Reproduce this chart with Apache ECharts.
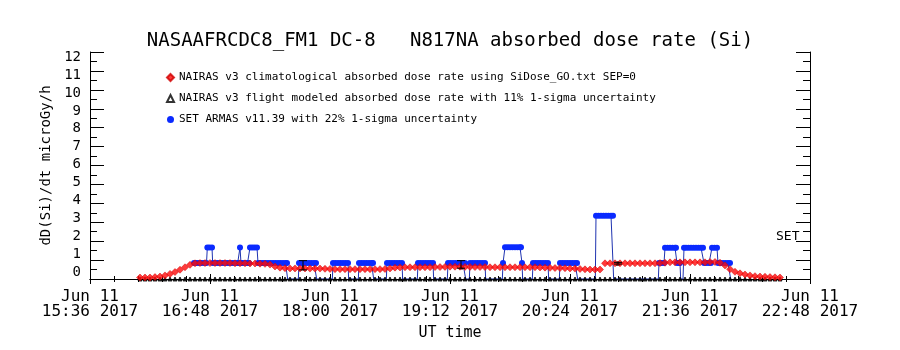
<!DOCTYPE html>
<html><head><meta charset="utf-8">
<script src="https://cdn.jsdelivr.net/npm/echarts@6/dist/echarts.min.js"></script>
<style>html,body{margin:0;padding:0;background:#fff}#c{width:900px;height:350px}</style>
</head><body><div id="c"></div>
<script>
const FONT = "'DejaVu Sans Mono', monospace";
const titleText = 'NASAAFRCDC8_FM1 DC-8   N817NA absorbed dose rate (Si)';
const yAxisTitle = 'dD(Si)/dt microGy/h';
const xAxisTitle = 'UT time';
const dateText = 'Jun 11';
const yearText = '2017';
const seriesNames = [
  'NAIRAS v3 climatological absorbed dose rate using SiDose_GO.txt SEP=0',
  'NAIRAS v3 flight modeled absorbed dose rate with 11% 1-sigma uncertainty',
  'SET ARMAS v11.39 with 22% 1-sigma uncertainty'
];
const setLabel = 'SET';
const yTickLabels = [0,1,2,3,4,5,6,7,8,9,10,11,12];

// time in minutes after 00:00 UT
const redTime = [
  966,969,972,975,978,981,984,987,990,993,
  996,999,1002,1005,1008,1011,1014,1017,1020,1023,
  1026,1029,1032,1035,1038,1041,1044,1047,1050,1053,
  1056,1059,1062,1065,1068,1071,1074,1077,1080,1083,
  1086,1089,1092,1095,1098,1101,1104,1107,1110,1113,
  1116,1119,1122,1125,1128,1131,1134,1137,1140,1143,
  1146,1149,1152,1155,1158,1161,1164,1167,1170,1173,
  1176,1179,1182,1185,1188,1191,1194,1197,1200,1203,
  1206,1209,1212,1215,1218,1221,1224,1227,1230,1233,
  1236,1239,1242,1245,1248,1251,1254,1257,1260,1263,
  1266,1269,1272,1275,1278,1281,1284,1287,1290,1293,
  1296,1299,1302,1305,1308,1311,1314,1317,1320,1323,
  1326,1329,1332,1335,1338,1341,1344,1347,1350
];
const redDose = [
  0.08,0.08,0.08,0.10,0.13,0.19,0.27,0.37,0.49,0.62,
  0.75,0.83,0.84,0.84,0.84,0.84,0.84,0.84,0.84,0.83,
  0.83,0.83,0.82,0.82,0.81,0.80,0.76,0.66,0.60,0.57,
  0.56,0.56,0.56,0.56,0.55,0.55,0.55,0.54,0.53,0.52,
  0.52,0.52,0.52,0.52,0.52,0.52,0.52,0.52,0.52,0.53,
  0.56,0.60,0.61,0.62,0.62,0.62,0.62,0.62,0.62,0.63,
  0.63,0.64,0.65,0.65,0.65,0.64,0.64,0.63,0.63,0.63,
  0.62,0.62,0.62,0.62,0.62,0.62,0.62,0.62,0.62,0.62,
  0.61,0.60,0.59,0.58,0.58,0.57,0.56,0.55,0.53,0.51,
  0.50,0.50,0.50,0.83,0.83,0.83,0.83,0.83,0.83,0.83,
  0.83,0.83,0.83,0.83,0.84,0.86,0.88,0.88,0.88,0.88,
  0.88,0.88,0.88,0.88,0.90,0.90,0.86,0.72,0.52,0.38,
  0.30,0.24,0.19,0.15,0.13,0.12,0.10,0.09,0.08
];
const flightDose = [
  0,0,0,0,0,0,0,0,0,0, 0,0,0,0,0,0,0,0,0,0,
  0,0,0,0,0,0,0,0,0,0, 0,0,0,0,0,0,0,0,0,0,
  0,0,0,0,0,0,0,0,0,0, 0,0,0,0,0,0,0,0,0,0,
  0,0,0,0,0,0,0,0,0,0, 0,0,0,0,0,0,0,0,0,0,
  0,0,0,0,0,0,0,0,0,0, 0,0,0,0,0,0,0,0,0,0,
  0,0,0,0,0,0,0,0,0,0, 0,0,0,0,0,0,0,0,0,0,
  0,0,0,0,0,0,0,0,0
];
const flightErrTime = [1063.8, 1158.6, 1252.8];
const flightErrDose = [0.60, 0.63, 0.83];
const flightErrLow  = [0.48, 0.57, 0.79];
const flightErrHigh = [0.97, 0.97, 0.88];

const armasTime = [
  998.4,999.9,1001.4,1002.9,1004.4,1005.9,1006.4,1007.7,1009.2,1009.6,
  1011.1,1012.6,1014.1,1015.6,1017.1,1018.6,1020.1,1021.6,1023.1,1024.6,
  1025.4,1026.0,1026.6,1027.5,1029.0,1030.5,1031.4,1032.0,1033.4,1034.8,
  1036.2,1036.8,1038.3,1039.8,1041.3,1042.8,1044.3,1045.8,1047.3,1048.8,
  1050.3,1051.8,1053.3,1054.2,1054.6,
  1061.0,1061.4,1062.9,1064.4,1065.9,1067.4,1068.9,1070.4,1071.6,1072.0,
  1081.4,1081.8,1083.3,1084.8,1086.3,1087.8,1089.3,1090.8,1091.2,
  1097.0,1097.4,1098.9,1100.4,1101.9,1103.4,1104.9,1105.8,1106.2,
  1113.8,1114.2,1115.7,1117.2,1118.7,1120.2,1121.7,1123.2,1123.6,
  1132.4,1132.8,1134.3,1135.8,1137.3,1138.8,1140.3,1141.8,1142.2,
  1150.4,1150.8,1152.3,1153.8,1155.3,1156.8,1158.3,1159.8,1161.0,1161.4,
  1163.6,1164.0,1165.5,1167.0,1168.5,1170.0,1171.5,1173.0,1173.4,
  1183.4,1183.8,1185.0,1186.5,1188.0,1189.5,1191.0,1192.5,1194.0,1194.6,1195.2,1195.6,
  1201.4,1201.8,1203.3,1204.8,1206.3,1207.8,1209.3,1210.8,1211.2,
  1217.6,1218.0,1219.5,1221.0,1222.5,1224.0,1225.5,1227.0,1228.2,1228.6,
  1239.2,1239.6,1241.1,1242.6,1244.1,1245.6,1247.1,1248.6,1249.8,1250.2,
  1277.0,1277.4,1278.9,1280.4,1281.0,1282.5,1284.0,1285.5,1287.0,1287.6,1288.2,1289.4,1290.0,1290.4,
  1291.8,1292.4,1293.6,1295.1,1296.6,1298.1,1299.6,1301.1,1302.6,1303.8,
  1304.4,1305.9,1307.4,1308.6,1309.2,1310.7,1312.2,1312.8,1314.3,1315.8,
  1317.3,1318.8,1320.0,1320.4
];
const armasDose = [
  0.84,0.84,0.84,0.84,0.84,0.84,1.67,1.67,1.67,0.84,
  0.84,0.84,0.84,0.84,0.84,0.84,0.84,0.84,0.84,0.84,
  0.84,1.67,0.84,0.84,0.84,0.84,0.84,1.67,1.67,1.67,
  1.67,0.84,0.84,0.84,0.84,0.84,0.84,0.84,0.84,0.84,
  0.84,0.84,0.84,0.84,0,
  0,0.84,0.84,0.84,0.84,0.84,0.84,0.84,0.84,0,
  0,0.84,0.84,0.84,0.84,0.84,0.84,0.84,0,
  0,0.84,0.84,0.84,0.84,0.84,0.84,0.84,0,
  0,0.84,0.84,0.84,0.84,0.84,0.84,0.84,0,
  0,0.84,0.84,0.84,0.84,0.84,0.84,0.84,0,
  0,0.84,0.84,0.84,0.84,0.84,0.84,0.84,0.84,0,
  0,0.84,0.84,0.84,0.84,0.84,0.84,0.84,0,
  0,0.84,1.68,1.68,1.68,1.68,1.68,1.68,1.68,1.68,0.84,0,
  0,0.84,0.84,0.84,0.84,0.84,0.84,0.84,0,
  0,0.84,0.84,0.84,0.84,0.84,0.84,0.84,0.84,0,
  0,3.35,3.35,3.35,3.35,3.35,3.35,3.35,3.35,0,
  0,0.84,0.84,0.84,1.65,1.65,1.65,1.65,1.65,1.65,0.84,0.84,0.84,0,
  0,1.65,1.65,1.65,1.65,1.65,1.65,1.65,1.65,1.65,
  0.84,0.84,0.84,0.84,1.65,1.65,1.65,0.84,0.84,0.84,
  0.84,0.84,0.84,0
];

const X_MIN = 936, X_MAX = 1368, X_STEP = 72;

function hhmm(v) {
  const h = Math.floor(v / 60), m = Math.round(v - h * 60);
  return (h < 10 ? '0' : '') + h + ':' + (m < 10 ? '0' : '') + m;
}

const black = '#000';
const tickStyle = { color: black, width: 1 };

const chart = echarts.init(document.getElementById('c'), null, { renderer: 'canvas' });

const redData = redTime.map((t, i) => [t, redDose[i]]);
const flightData = redTime.map((t, i) => [t, flightDose[i]])
  .concat(flightErrTime.map((t, i) => [t, flightErrDose[i]]));
const errData = flightErrTime.map((t, i) => [t, flightErrLow[i], flightErrHigh[i]]);
const armasData = armasTime.map((t, i) => [t, armasDose[i]]);

const option = {
  animation: false,
  backgroundColor: '#fff',
  title: {
    text: titleText, left: 'center', top: 27,
    textStyle: { fontFamily: FONT, fontSize: 19, fontWeight: 'normal', color: black }
  },
  legend: {
    orient: 'vertical', left: 166, top: 71, padding: 0,
    itemWidth: 7, itemHeight: 7, itemGap: 8, selectedMode: false,
    textStyle: { fontFamily: FONT, fontSize: 11, color: black, lineHeight: 13 },
    data: [
      { name: seriesNames[0], icon: 'diamond' },
      { name: seriesNames[1], icon: 'emptyTriangle' },
      { name: seriesNames[2], icon: 'circle' }
    ]
  },
  grid: { left: 90, right: 90, top: 52, bottom: 71, containLabel: false, outerBoundsMode: 'none' },
  xAxis: [{
    type: 'value', position: 'bottom', min: X_MIN, max: X_MAX, interval: X_STEP,
    axisLine: { show: true, lineStyle: { color: black, width: 1 } },
    axisTick: { show: true, inside: true, length: 5, lineStyle: tickStyle },
    minorTick: { show: true, splitNumber: 5, length: 3, lineStyle: tickStyle },
    splitLine: { show: false }, minorSplitLine: { show: false },
    axisLabel: {
      show: true, margin: 10, color: black, fontFamily: FONT, fontSize: 16, lineHeight: 15,
      showMinLabel: true, showMaxLabel: true,
      formatter: v => dateText + '\n' + hhmm(v) + ' ' + yearText
    },
    name: xAxisTitle, nameLocation: 'middle', nameGap: 47, nameMoveOverlap: false,
    nameTextStyle: { fontFamily: FONT, fontSize: 15, color: black }
  }, {
    type: 'value', position: 'top', min: X_MIN, max: X_MAX, interval: X_STEP,
    axisLine: { show: true, lineStyle: { color: black, width: 1 } },
    axisTick: { show: true, inside: true, length: 5, lineStyle: tickStyle },
    minorTick: { show: true, splitNumber: 5, length: 3, lineStyle: tickStyle },
    splitLine: { show: false }, minorSplitLine: { show: false },
    axisLabel: { show: false }
  }],
  yAxis: [{
    type: 'value', position: 'left', min: 0, max: 12, interval: 1,
    axisLine: { show: true, lineStyle: { color: black, width: 1 } },
    axisTick: { show: true, inside: true, length: 14, lineStyle: tickStyle },
    minorTick: { show: true, splitNumber: 2, length: 7, lineStyle: tickStyle },
    splitLine: { show: false }, minorSplitLine: { show: false },
    axisLabel: { show: false },
    name: yAxisTitle, nameLocation: 'middle', nameGap: 37, nameMoveOverlap: false,
    nameTextStyle: { fontFamily: FONT, fontSize: 14, color: black }
  }, {
    type: 'value', position: 'right', min: 0, max: 12, interval: 1,
    axisLine: { show: true, lineStyle: { color: black, width: 1 } },
    axisTick: { show: true, inside: true, length: 14, lineStyle: tickStyle },
    minorTick: { show: true, splitNumber: 2, length: 7, lineStyle: tickStyle },
    splitLine: { show: false }, minorSplitLine: { show: false },
    axisLabel: { show: false }
  }, {
    type: 'value', position: 'left', min: -0.362, max: 12.278,
    axisLine: { show: false }, axisTick: { show: false },
    splitLine: { show: false },
    axisLabel: {
      show: true, customValues: yTickLabels, margin: 9, color: black,
      fontFamily: FONT, fontSize: 14, showMinLabel: true, showMaxLabel: true
    }
  }],
  graphic: [{
    type: 'text', left: 776, top: 230, silent: true,
    style: { text: setLabel, font: '13px ' + FONT, fill: black }
  }],
  series: [{
    name: seriesNames[2], type: 'line', xAxisIndex: 0, yAxisIndex: 0,
    data: armasData, z: 2, clip: true,
    symbol: 'circle', showSymbol: true,
    symbolSize: v => (v[1] > 0 ? 6 : 0),
    itemStyle: { color: '#0a2aff' },
    lineStyle: { color: '#1f33b0', width: 1 }
  }, {
    name: seriesNames[1], type: 'scatter', xAxisIndex: 0, yAxisIndex: 0,
    data: flightData, z: 3, symbol: 'triangle', symbolSize: 4,
    itemStyle: { color: black, borderColor: black, borderWidth: 1 }
  }, {
    name: seriesNames[0], type: 'scatter', xAxisIndex: 0, yAxisIndex: 0,
    data: redData, z: 4, symbol: 'diamond', symbolSize: 7,
    itemStyle: { color: '#ff0a0a', borderColor: '#d00000', borderWidth: 0.6 }
  }, {
    name: 'errbar', type: 'custom', xAxisIndex: 0, yAxisIndex: 0, z: 5,
    data: errData,
    renderItem: (params, api) => {
      const lo = api.coord([api.value(0), api.value(1)]);
      const hi = api.coord([api.value(0), api.value(2)]);
      const w = 4;
      const st = { stroke: black, lineWidth: 1 };
      return {
        type: 'group', children: [
          { type: 'line', shape: { x1: lo[0], y1: lo[1], x2: hi[0], y2: hi[1] }, style: st },
          { type: 'line', shape: { x1: lo[0] - w, y1: lo[1], x2: lo[0] + w, y2: lo[1] }, style: st },
          { type: 'line', shape: { x1: hi[0] - w, y1: hi[1], x2: hi[0] + w, y2: hi[1] }, style: st }
        ]
      };
    }
  }]
};
chart.setOption(option);
</script>
</body></html>
